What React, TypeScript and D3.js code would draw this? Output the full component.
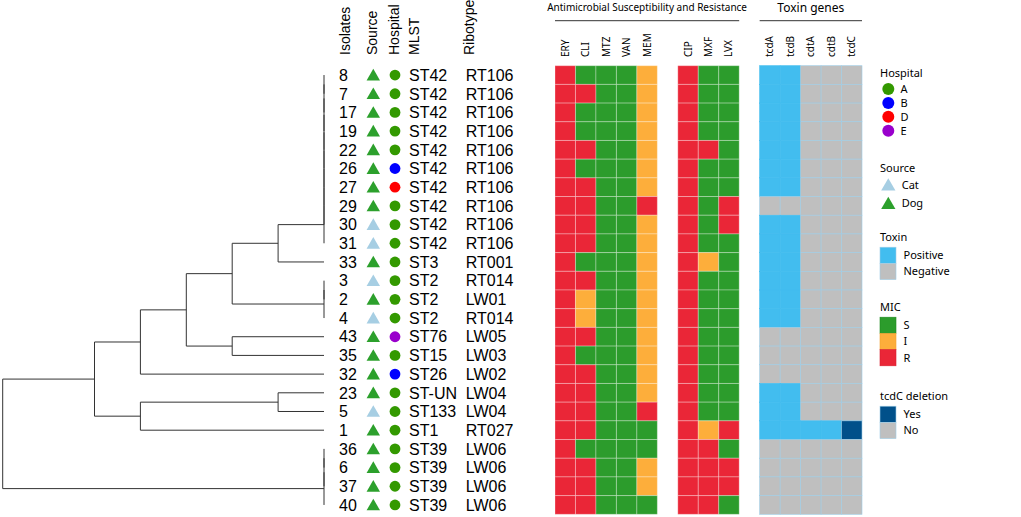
import React, { useEffect, useRef } from 'react'
import * as d3 from 'd3'

// rows from top to bottom, in tree order
const isolates = ['8', '7', '17', '19', '22', '26', '27', '29', '30', '31', '33', '3', '2', '4', '43', '35', '32', '23', '5', '1', '36', '6', '37', '40']
const sources = ['Dog', 'Dog', 'Dog', 'Dog', 'Dog', 'Dog', 'Dog', 'Dog', 'Cat', 'Cat', 'Dog', 'Cat', 'Dog', 'Cat', 'Dog', 'Dog', 'Dog', 'Dog', 'Cat', 'Dog', 'Dog', 'Dog', 'Dog', 'Dog']
const hospitals = ['A', 'A', 'A', 'A', 'A', 'B', 'D', 'A', 'A', 'A', 'A', 'A', 'A', 'A', 'E', 'A', 'B', 'A', 'A', 'A', 'A', 'A', 'A', 'A']
const mlst = ['ST42', 'ST42', 'ST42', 'ST42', 'ST42', 'ST42', 'ST42', 'ST42', 'ST42', 'ST42', 'ST3', 'ST2', 'ST2', 'ST2', 'ST76', 'ST15', 'ST26', 'ST-UN', 'ST133', 'ST1', 'ST39', 'ST39', 'ST39', 'ST39']
const ribotypes = ['RT106', 'RT106', 'RT106', 'RT106', 'RT106', 'RT106', 'RT106', 'RT106', 'RT106', 'RT106', 'RT001', 'RT014', 'LW01', 'RT014', 'LW05', 'LW03', 'LW02', 'LW04', 'LW04', 'RT027', 'LW06', 'LW06', 'LW06', 'LW06']

const drugs = ['ERY', 'CLI', 'MTZ', 'VAN', 'MEM', 'CIP', 'MXF', 'LVX']
// one letter per drug, S / I / R
const mic = [
    'RSSSIRSS', 'RRSSIRSS', 'RSSSIRSS', 'RSSSIRSS', 'RRSSIRRS', 'RSSSIRSS',
    'RRSSIRSS', 'RRSSRRSR', 'RRSSIRSR', 'RRSSIRSS', 'RSSSIRIS', 'RRSSIRSS',
    'RISSIRSS', 'RISSIRSS', 'RRSSIRSS', 'RSSSIRSS', 'RRSSIRSS', 'RRSSIRSS',
    'RRSSRRSS', 'RRSSSRIR', 'RSSSSRRS', 'RRSSIRRR', 'RRSSIRRR', 'RRSSSRRS',
]

const genes = ['tcdA', 'tcdB', 'cdtA', 'cdtB', 'tcdC']
// + positive, - negative, D = tcdC deletion
const toxins = [
    '++---', '++---', '++---', '++---', '++---', '++---', '++---', '-----',
    '++---', '++---', '++---', '++---', '++---', '++---', '-----', '-----',
    '-----', '++---', '++---', '++++D', '-----', '-----', '-----', '-----',
]

interface TreeNode {
    h: number
    id?: string
    children?: TreeNode[]
}
const leaf = (id: string): TreeNode => ({ h: 0, id })
const join = (h: number, ...children: TreeNode[]): TreeNode => ({ h, children })
// identical profiles merge one after another at distance 0
const ladder = (ids: string[]): TreeNode =>
    ids.slice(1).reduce<TreeNode>((acc, id) => join(0, acc, leaf(id)), leaf(ids[0]))

const tree = join(7,
    join(5,
        join(4,
            join(3,
                join(2,
                    join(1, ladder(['8', '7', '17', '19', '22', '26', '27', '29', '30', '31']), leaf('33')),
                    ladder(['3', '2', '4'])),
                join(2, leaf('43'), leaf('35'))),
            leaf('32')),
        join(4, join(1, leaf('23'), leaf('5')), leaf('1'))),
    ladder(['36', '6', '37', '40']))

const micColor: Record<string, string> = { S: '#2c9c2c', I: '#fdae3b', R: '#ea2637' }
const toxinColor: Record<string, string> = { '+': '#42bdef', '-': '#bfbfbf', D: '#00508a' }
const hospitalColor: Record<string, string> = { A: '#339900', B: '#0000ff', D: '#ff0000', E: '#9900cc' }
const sourceColor: Record<string, string> = { Cat: '#a6cee3', Dog: '#2ca02c' }

const labelFont = '"Liberation Sans", Arial, sans-serif'
const smallFont = '"Noto Sans", sans-serif'

const App: React.FC = () => {
    const svgRef = useRef<SVGSVGElement | null>(null)

    useEffect(() => {
        if (!svgRef.current) return
        const width = 1021
        const height = 517
        const svg = d3.select(svgRef.current).attr('width', width).attr('height', height)
        svg.selectAll('*').remove()

        const y = d3.scaleBand().domain(isolates).range([65.7, 514.3])
        const rowY = (id: string) => (y(id) || 0) + y.bandwidth() / 2

        // ---- dendrogram
        const tx = d3.scaleLinear().domain([7, 0]).range([2.7, 324])
        const root = d3.hierarchy(tree)
        const ny = new Map<d3.HierarchyNode<TreeNode>, number>()
        root.eachAfter((n) => {
            if (!n.children) ny.set(n, rowY(n.data.id as string))
            else ny.set(n, d3.mean(n.children, (c) => ny.get(c) as number) as number)
        })
        const tg = svg.append('g').attr('stroke', '#333').attr('stroke-width', 1).attr('fill', 'none')
        root.each((n) => {
            if (!n.children) return
            const ys = n.children.map((c) => ny.get(c) as number)
            const x0 = tx(n.data.h)
            tg.append('line').attr('x1', x0).attr('x2', x0)
                .attr('y1', d3.min(ys) as number).attr('y2', d3.max(ys) as number)
            n.children.forEach((c) => {
                if (c.data.h === n.data.h) return
                tg.append('line').attr('x1', x0).attr('x2', tx(c.data.h))
                    .attr('y1', ny.get(c) as number).attr('y2', ny.get(c) as number)
            })
        })

        // ---- metadata columns
        const headers = [
            { t: 'Isolates', x: 345 },
            { t: 'Source', x: 372.5 },
            { t: 'Hospital', x: 394 },
            { t: 'MLST', x: 414.5 },
            { t: 'Ribotype', x: 469 },
        ]
        svg.append('g').selectAll('text').data(headers).join('text')
            .attr('transform', (d) => `translate(${d.x},55) rotate(-90)`)
            .attr('dy', '0.35em')
            .attr('font-family', labelFont).attr('font-size', 14)
            .text((d) => d.t)

        const rows = svg.append('g').selectAll('g').data(isolates).join('g')
            .attr('transform', (d) => `translate(0,${rowY(d)})`)
        rows.append('text').attr('x', 339).attr('dy', '0.36em')
            .attr('font-family', labelFont).attr('font-size', 16).text((d) => d)
        rows.append('path')
            .attr('d', d3.symbol(d3.symbolTriangle, 78)())
            .attr('transform', 'translate(373.3,1.5)')
            .attr('fill', (_, i) => sourceColor[sources[i]])
        rows.append('circle').attr('cx', 395).attr('r', 5.4)
            .attr('fill', (_, i) => hospitalColor[hospitals[i]])
        rows.append('text').attr('x', 409).attr('dy', '0.36em')
            .attr('font-family', labelFont).attr('font-size', 16).text((_, i) => mlst[i])
        rows.append('text').attr('x', 465.7).attr('dy', '0.36em')
            .attr('font-family', labelFont).attr('font-size', 16).text((_, i) => ribotypes[i])

        // ---- heatmaps
        const slots = [...drugs.slice(0, 5), 'gap1', ...drugs.slice(5), 'gap2', ...genes]
        const x = d3.scaleBand().domain(slots).range([555, 862])
        const bw = x.bandwidth()

        const amr = svg.append('g')
        isolates.forEach((id, i) => {
            drugs.forEach((dr, j) => {
                amr.append('rect')
                    .attr('x', x(dr) as number).attr('y', y(id) as number)
                    .attr('width', bw).attr('height', y.bandwidth())
                    .attr('fill', micColor[mic[i][j]])
                    .attr('stroke', 'rgba(255,255,255,0.3)').attr('stroke-width', 1)
            })
        })
        const tox = svg.append('g')
        isolates.forEach((id, i) => {
            genes.forEach((g, j) => {
                const v = toxins[i][j]
                tox.append('rect')
                    .attr('x', x(g) as number).attr('y', y(id) as number)
                    .attr('width', bw).attr('height', y.bandwidth())
                    .attr('fill', toxinColor[v])
                    .attr('stroke', v === '+' ? toxinColor['+'] : '#9fcde6').attr('stroke-width', 0.6)
            })
        })

        svg.append('g').selectAll('text').data([...drugs, ...genes]).join('text')
            .attr('transform', (d) => `translate(${(x(d) as number) + bw / 2},57) rotate(-90)`)
            .attr('dy', '0.35em')
            .attr('font-family', smallFont).attr('font-size', 10).text((d) => d)

        const xs = (k: string) => x(k) as number
        svg.append('text').attr('x', (xs('ERY') + xs('LVX') + bw) / 2).attr('y', 7.5).attr('dy', '0.35em')
            .attr('text-anchor', 'middle').attr('font-family', smallFont).attr('font-size', 10)
            .text('Antimicrobial Susceptibility and Resistance')
        svg.append('line').attr('x1', xs('ERY')).attr('x2', xs('LVX') + bw)
            .attr('y1', 20.7).attr('y2', 20.7).attr('stroke', '#333')
        svg.append('text').attr('x', (xs('tcdA') + xs('tcdC') + bw) / 2).attr('y', 7.5).attr('dy', '0.35em')
            .attr('text-anchor', 'middle').attr('font-family', smallFont).attr('font-size', 12)
            .text('Toxin genes')
        svg.append('line').attr('x1', xs('tcdA')).attr('x2', xs('tcdC') + bw)
            .attr('y1', 20.7).attr('y2', 20.7).attr('stroke', '#333')

        // ---- legends
        const lg = svg.append('g').attr('font-family', smallFont).attr('font-size', 11)
        const title = (t: string, ty: number) =>
            lg.append('text').attr('x', 880).attr('y', ty).attr('dy', '0.35em').text(t)

        title('Hospital', 73)
        Object.keys(hospitalColor).forEach((k, i) => {
            lg.append('circle').attr('cx', 888.3).attr('cy', 89 + i * 13.9).attr('r', 6).attr('fill', hospitalColor[k])
            lg.append('text').attr('x', 900.5).attr('y', 89 + i * 13.9).attr('dy', '0.35em').text(k)
        })

        title('Source', 168.3)
        Object.keys(sourceColor).forEach((k, i) => {
            lg.append('path').attr('d', d3.symbol(d3.symbolTriangle, 88)())
                .attr('transform', `translate(888.3,${186.5 + i * 18.4})`).attr('fill', sourceColor[k])
            lg.append('text').attr('x', 901.7).attr('y', 185 + i * 18.4).attr('dy', '0.35em').text(k)
        })

        const swatches = (t: string, ty: number, items: [string, string, string][]) => {
            title(t, ty)
            items.forEach(([label, fill, stroke], i) => {
                lg.append('rect').attr('x', 880).attr('y', ty + 10.5 + i * 16.2)
                    .attr('width', 16).attr('height', 16.2)
                    .attr('fill', fill).attr('stroke', stroke).attr('stroke-width', 0.6)
                lg.append('text').attr('x', 903.5).attr('y', ty + 18.6 + i * 16.2).attr('dy', '0.35em').text(label)
            })
        }
        swatches('Toxin', 236.7, [['Positive', toxinColor['+'], '#9fcde6'], ['Negative', toxinColor['-'], '#9fcde6']])
        swatches('MIC', 306.7, [['S', micColor.S, '#1f8a1f'], ['I', micColor.I, '#f0a030'], ['R', micColor.R, '#d81f2f']])
        swatches('tcdC deletion', 395.7, [['Yes', toxinColor.D, '#9fcde6'], ['No', toxinColor['-'], '#9fcde6']])
    }, [])

    return (
        <div style={{ position: 'absolute', left: 0, top: 0, background: '#fff' }}>
            <svg ref={svgRef} style={{ display: 'block' }}></svg>
        </div>
    )
}

export default App
